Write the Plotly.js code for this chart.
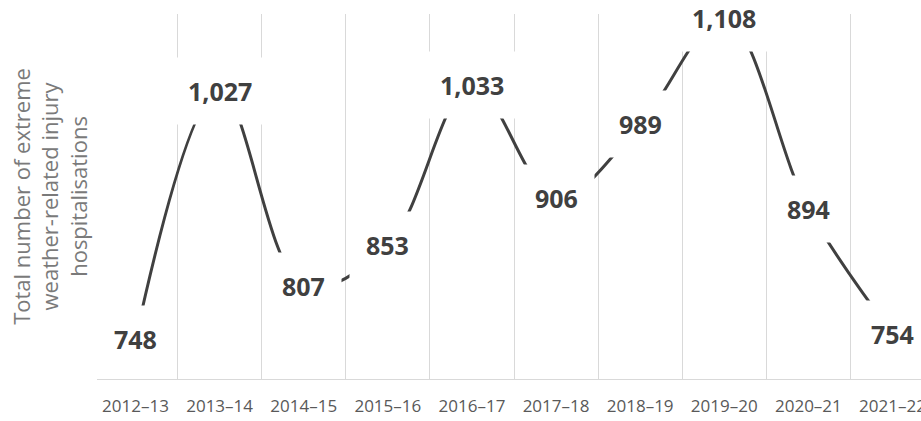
<!DOCTYPE html>
<html>
<head>
<meta charset="utf-8">
<script src="https://cdn.plot.ly/plotly-3.0.1.min.js"></script>
<style>
html,body{margin:0;padding:0;overflow:hidden;background:#fff;width:921px;height:421px;}
#chart{width:931px;height:421px;}
</style>
</head>
<body>
<div id="chart"></div>
<script>
var categories = ["2012–13","2013–14","2014–15","2015–16","2016–17","2017–18","2018–19","2019–20","2020–21","2021–22"];
var hospitalisations = [748, 1027, 807, 853, 1033, 906, 989, 1108, 894, 754];
var yTitle = "Total number of extreme<br>weather-related injury<br>hospitalisations";

var trace = {
  x: categories,
  y: hospitalisations,
  type: "scatter",
  mode: "lines",
  line: {shape: "spline", smoothing: 1, color: "#404040", width: 3},
  hoverinfo: "skip"
};

var annotations = categories.map(function(c, i){
  return {
    x: c, y: hospitalisations[i], xref: "x", yref: "y",
    text: hospitalisations[i].toLocaleString("en-US"),
    showarrow: false,
    font: {family: "Open Sans", size: 25, color: "#404040", weight: 700},
    bgcolor: "#ffffff",
    borderpad: 16
  };
});

var layout = {
  width: 931, height: 421,
  margin: {l: 97, r: 0, t: 14, b: 42},
  paper_bgcolor: "#ffffff", plot_bgcolor: "#ffffff",
  showlegend: false,
  font: {family: "Open Sans", color: "#595959"},
  xaxis: {
    type: "category",
    tickson: "boundaries",
    showgrid: true, gridcolor: "#d9d9d9", gridwidth: 1,
    showline: true, linecolor: "#d9d9d9", linewidth: 1,
    ticks: "", ticklen: 0,
    ticklabelstandoff: 12,
    tickfont: {family: "Open Sans", size: 17, color: "#595959"},
    fixedrange: true
  },
  yaxis: {
    range: [703, 1113],
    showgrid: false, zeroline: false, showticklabels: false,
    showline: false, ticks: "",
    title: {text: yTitle, font: {family: "Open Sans", size: 22, color: "#7a7a7a"}, standoff: 2},
    fixedrange: true
  },
  annotations: annotations
};

Plotly.newPlot("chart", [trace], layout, {displayModeBar: false, staticPlot: true});
</script>
</body>
</html>
